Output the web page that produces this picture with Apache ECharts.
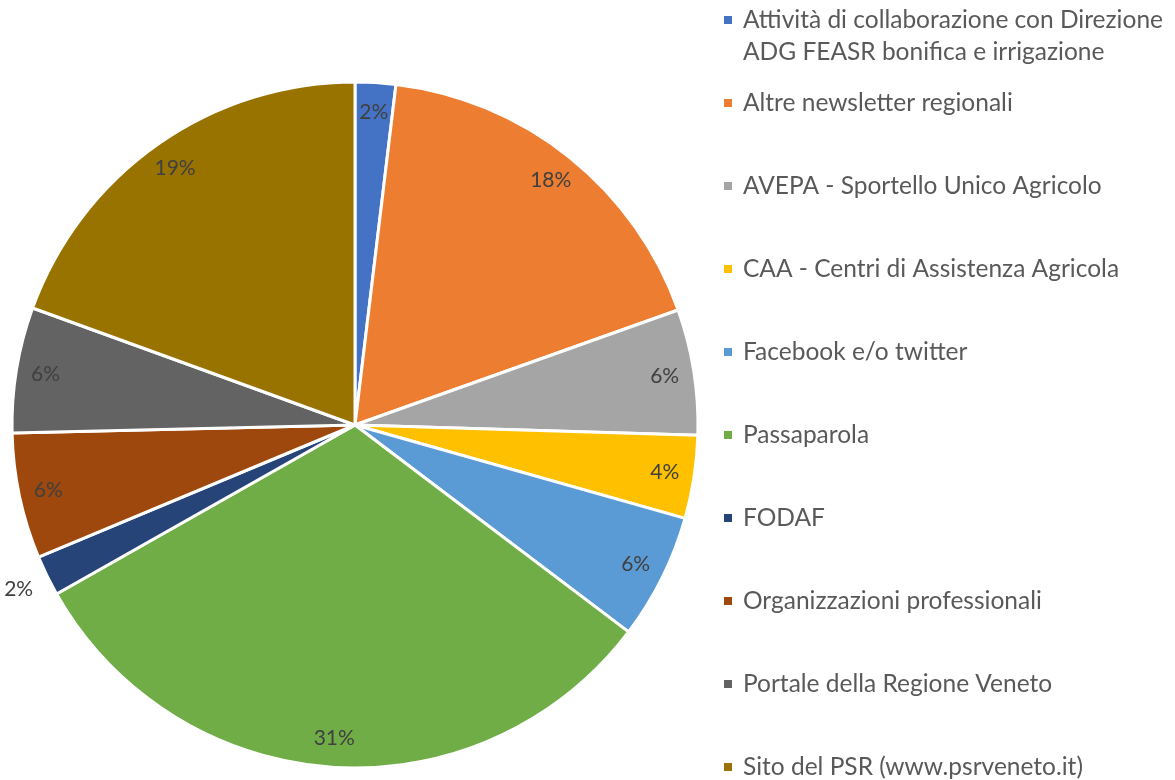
<!DOCTYPE html>
<html>
<head>
    <meta http-equiv="content-type" content="text/html;charset=utf-8">
    <script src="https://cdn.jsdelivr.net/npm/echarts@6/dist/echarts.min.js"></script>
    <style>
        html, body { margin: 0; padding: 0; background: #fff; }
        #pie { width: 1175px; height: 780px; }
    </style>
</head>
<body>
<div id="pie"></div>
<script type="text/javascript">
    // categorie e percentuali
    var categories = [
        'Attività di collaborazione con Direzione ADG FEASR bonifica e irrigazione',
        'Altre newsletter regionali',
        'AVEPA - Sportello Unico Agricolo',
        'CAA - Centri di Assistenza Agricola',
        'Facebook e/o twitter',
        'Passaparola',
        'FODAF',
        'Organizzazioni professionali',
        'Portale della Regione Veneto',
        'Sito del PSR (www.psrveneto.it)'
    ];
    var values = [1.9, 17.6, 5.9, 3.9, 5.9, 31.4, 1.9, 5.9, 5.9, 19.4];
    var colors = ['#4472C4', '#ED7D31', '#A5A5A5', '#FFC000', '#5B9BD5',
                  '#70AD47', '#264478', '#9E480E', '#636363', '#997300'];
    // etichetta fuori dalla fetta (solo FODAF)
    var outsideLabel = ['FODAF'];

    var myChart = echarts.init(document.getElementById('pie'));

    var font = 'Lato, "Liberation Sans", sans-serif';
    var pieData = [];
    var labelData = [];
    var outerData = [];
    for (var i = 0; i < categories.length; i++) {
        var out = outsideLabel.indexOf(categories[i]) >= 0;
        pieData.push({name: categories[i], value: values[i]});
        labelData.push({name: categories[i], value: values[i], label: {show: !out}});
        outerData.push({name: categories[i], value: values[i], label: {show: out}});
    }

    var pctLabel = {
        position: 'inside',
        formatter: function (p) { return Math.round(p.value) + '%'; },
        fontFamily: font,
        fontSize: 21,
        color: '#404040'
    };
    var ghost = {
        type: 'pie',
        center: [355, 425],
        silent: true,
        startAngle: 90,
        clockwise: true,
        itemStyle: {color: 'rgba(0,0,0,0)', borderWidth: 0},
        emphasis: {disabled: true},
        labelLine: {show: false},
        label: pctLabel
    };

    var legendText = {
        fontFamily: font,
        fontSize: 24.5,
        color: '#595959',
        lineHeight: 32,
        padding: [0, 0, 0, 5]
    };

    var option = {
        color: colors,
        animation: false,
        legend: [
            {
                orient: 'vertical',
                left: 722,
                top: -28,
                padding: 0,
                icon: 'rect',
                itemWidth: 10,
                itemHeight: 10,
                selectedMode: false,
                data: [categories[0]],
                // riga vuota in testa: l'icona resta allineata alla prima riga
                formatter: function () {
                    return '\nAttività di collaborazione con Direzione\nADG FEASR bonifica e irrigazione';
                },
                textStyle: legendText
            },
            {
                orient: 'vertical',
                left: 722,
                top: 87,
                height: 720,
                padding: 0,
                itemGap: 51,
                icon: 'rect',
                itemWidth: 10,
                itemHeight: 10,
                selectedMode: false,
                data: categories.slice(1),
                textStyle: legendText
            }
        ],
        series: [
            {
                type: 'pie',
                center: [355, 425],
                radius: [0, 343],
                startAngle: 90,
                clockwise: true,
                silent: true,
                itemStyle: {borderColor: '#ffffff', borderWidth: 3},
                label: {show: false},
                labelLine: {show: false},
                data: pieData
            },
            echarts.util.extend({radius: [278, 343], data: labelData}, ghost),
            echarts.util.extend({radius: [343, 400], data: outerData}, ghost)
        ]
    };
    myChart.setOption(option);
</script>
</body>
</html>
